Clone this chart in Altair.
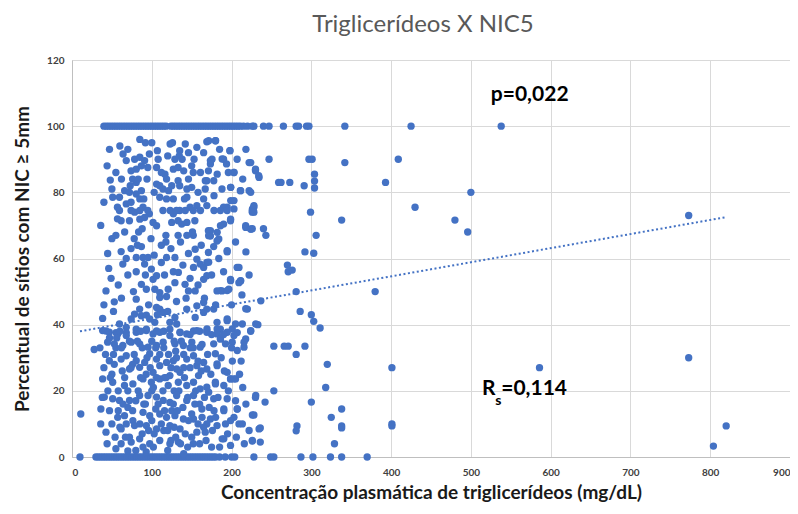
import altair as alt
import pandas as pd

# ---- data ----
# x values of points lying on the 100 % row
row100_x = [40, 43, 46, 49, 52, 55, 58, 61, 64, 67, 70, 73, 76, 79, 82, 85, 88, 91, 94, 97,
            100, 103, 106, 109, 112, 115, 118, 124, 127, 130, 133, 136, 139, 142, 145, 148,
            151, 154, 157, 160, 163, 166, 169, 172, 175, 178, 181, 184, 187, 190, 193, 196,
            199, 202, 205, 208, 211, 215, 220, 226, 228, 240, 247, 265, 281, 284, 294, 297,
            342, 425, 538]

# x values of points lying on the 0 % row
row0_x = [10, 30, 33, 36, 39, 42, 45, 48, 51, 54, 57, 60, 63, 66, 69, 72, 75, 78, 81, 84,
          87, 90, 93, 96, 99, 102, 105, 108, 111, 114, 117, 120, 123, 126, 129, 132, 135,
          138, 141, 144, 147, 150, 153, 156, 159, 162, 165, 168, 171, 174, 177, 180, 185,
          192, 200, 204, 228, 249, 253, 287, 302, 324, 338, 370]

# (x, y) points, upper part of the cloud
upper_pts = [(47, 93), (85, 96), (92, 95), (64, 91.6), (68, 89.6), (78.5, 90), (85, 90.6),
             (91, 89.6), (97, 91.6), (107, 92.6), (123, 94.6), (126, 95), (135, 92.6),
             (134.5, 91), (142, 94.6), (146, 92), (156.5, 93.6), (169, 95.3), (180, 95.6),
             (198, 92.6), (190, 90), (175.5, 90), (173.5, 88.6), (171, 86.5), (182, 85.5),
             (203, 86), (222, 89), (230, 86.5), (234.5, 84.5), (48, 83.7), (74, 86.5),
             (80.5, 87), (87, 88), (95, 87.5), (106, 87.5), (116.5, 85.5), (118.5, 84),
             (127, 87), (133, 87.5), (140, 86.5), (150, 88), (152, 86), (133, 83.5),
             (135, 82), (144, 81), (150, 81.5), (169, 83.5), (167, 81), (199, 81.5),
             (211, 80.5), (222, 80.5), (106, 82.5), (110, 82), (114, 81), (121, 80.5),
             (110, 78.5), (118.5, 78), (127, 78), (66, 80.5), (72, 80), (80.5, 79.5),
             (87, 80.5), (59.5, 78.5), (51, 78.5), (57, 75.5), (68, 76.5), (74, 77),
             (85, 78), (144, 78.5), (148, 75.5), (156.5, 76), (169, 76), (165, 78),
             (190, 75.5), (199, 77.5), (203, 75), (228, 76), (226, 74), (78.5, 74),
             (89, 75.5), (97, 73.5), (127, 73.5), (135, 74.5), (80.5, 83), (76, 84),
             (171.3, 95.6), (179.8, 95.6), (197.9, 92.6), (173.5, 89.6), (188.2, 90.1),
             (193.7, 88.6), (203, 86), (167.1, 83.5), (177.7, 83.5), (198.8, 81.5),
             (211.4, 80.5), (194.5, 75.5), (203, 77.5), (226.2, 75),
             (44, 88), (50, 81), (55, 86), (60, 94), (62, 84), (70, 93), (73, 82), (83, 84),
             (90, 78), (94, 84), (100, 95), (103, 80), (108, 90), (112, 86), (120, 91),
             (125, 82), (129, 90), (138, 90), (141, 78), (146, 84), (153, 90), (158, 80),
             (161, 86), (165, 92), (178, 79), (185, 93), (188, 81), (196, 86), (207, 90),
             (214, 84), (218, 93), (40, 77)]

# (x, y) points, 55 - 75 %
mid_high_pts = [(59.5, 74.5), (74, 74.5), (85, 74.5), (95, 74.5), (114, 74.5), (123, 74.5),
                (131, 74.5), (142, 74.5), (152, 74.5), (161, 74.5), (178, 74.5), (186, 74.5),
                (194.5, 74.5), (226, 74.5), (61.6, 71.4), (72, 71.4), (85, 71.9), (91, 72.4),
                (101.6, 70.9), (106, 69.9), (125, 70.9), (133, 71.4), (137.5, 70.4),
                (144, 70.9), (154, 71.4), (171, 68.4), (173.5, 66.8), (182, 67.9),
                (190, 70.4), (198.7, 71.4), (217.7, 69.9), (224, 68.9), (55, 67), (83.5, 68),
                (117.7, 67), (117.7, 65), (133, 67), (144, 67), (152, 67), (87, 63.6),
                (61.6, 62.1), (44.7, 61.5), (68, 60), (63.7, 58.3), (80.5, 60.3), (89, 60.3),
                (95.3, 60.3), (91, 58.3), (99.5, 56.8), (112, 58.8), (118.5, 60.3),
                (129, 60.3), (146, 61.5), (154.4, 62.8), (156.5, 59.8), (152.3, 57.3),
                (160.7, 58.3), (169, 58.8), (171, 61.8), (177.6, 63.6), (181.8, 65.3),
                (194.5, 62), (207, 57.3), (186.1, 69.9), (198.8, 71.9), (217.8, 69.4),
                (224.1, 68.9), (173.5, 68.4), (171.3, 66.9), (184, 65.9), (194.5, 62.4),
                (165, 57.3), (171.3, 58.9), (209.3, 57.3),
                (46, 57), (50, 66), (58, 52), (66, 68), (70, 55), (74, 63), (82, 64), (88, 69),
                (92, 55), (99, 66), (103, 61), (112, 64), (116, 55), (124, 63), (127, 56),
                (136, 65), (139, 58), (148, 54), (151, 68), (162, 64), (175, 55), (184, 60),
                (190, 56), (205, 65), (218, 62), (222, 55), (36, 70), (57, 72), (78, 66)]

# (x, y) points, 35 - 55 %
mid_pts = [(211.3, 53.2), (49, 54), (42.6, 50.2), (53, 46.9), (80.5, 56), (87, 52.2),
           (93.2, 50.7), (101.6, 53.7), (106, 54.8), (103.8, 50.7), (110, 49.7),
           (120.6, 50.7), (129, 52.7), (133.3, 55.8), (141.7, 52.2), (146, 50.2),
           (154.4, 50.2), (165, 53.7), (169, 54.8), (181.8, 50.2), (188, 50.2),
           (198.7, 53.7), (196.6, 50.7), (209.2, 52.7), (80.5, 47.7), (110, 48.2),
           (118.5, 48.5), (38.4, 41.9), (59.5, 40.2), (68, 39.2), (74.2, 41.7), (78.4, 43.2),
           (84.8, 44.7), (86.9, 42.7), (93.2, 42.9), (97.4, 41.7), (106, 45.2), (110, 44.7),
           (114.3, 43.7), (103.8, 40.7), (122.7, 40.7), (129, 42.2), (131.2, 40.2),
           (143.8, 44.7), (154.4, 42.2), (156.5, 45.7), (165, 46.7), (169, 44.7),
           (177.6, 44.7), (181.8, 40.7), (194.5, 41.7), (205, 40.2), (219.8, 44.7),
           (230.3, 40.2), (236.7, 47.2), (42.6, 38.1), (55.2, 37.6), (68, 37.6),
           (80.5, 38.6), (93.2, 38.6), (106, 38.1), (122.7, 38.6), (135.4, 37.6),
           (152.3, 38.1), (169, 38.1), (186, 38.6), (207.1, 37.6), (198.8, 53.3),
           (211.4, 53.3), (186.1, 50.3), (194.5, 50.3), (217.8, 44.8), (165, 43.7),
           (194.5, 41.2), (169.2, 38.7), (181.9, 38.7), (200.9, 38.7), (213.5, 40.2),
           (52, 44), (62, 48), (77, 50), (96, 46), (107, 43), (120, 44), (131, 47),
           (143, 48), (158, 52), (166, 48), (180, 46), (200, 46), (213, 49), (40, 46)]

# (x, y) points, 20 - 38 %
low_mid_pts = [(38.4, 38.2), (46.8, 37.7), (57.3, 37.2), (68, 36.7), (80.5, 37.7),
               (93.2, 38.2), (101.6, 37.2), (110, 37.7), (122.7, 36.7), (135.4, 37.7),
               (143.8, 37.2), (156.5, 38.2), (169, 37.7), (181.8, 37.2), (194.5, 37.7),
               (203, 36.7), (217.7, 35.7), (224, 38.2), (44.7, 34.7), (53, 34.2),
               (63.7, 33.7), (74.2, 34.7), (84.8, 34.2), (95.3, 33.2), (106, 33.7),
               (114.3, 34.7), (129, 34.2), (139.6, 33.7), (150.2, 34.7), (160.7, 33.2),
               (177.6, 34.2), (186, 35.7), (200.8, 34.7), (215.6, 33.2), (27.8, 32.5),
               (46.8, 29.1), (61.6, 29.6), (68, 30.6), (80.5, 29.1), (72.1, 26.6),
               (84.8, 27.1), (91.1, 28.6), (97.4, 31.2), (106, 29.6), (110, 27.6),
               (101.6, 25.6), (118.5, 28.6), (127, 29.1), (131.2, 26.6), (122.7, 24.6),
               (135.4, 25.6), (143.8, 29.6), (152.3, 30.6), (156.5, 27.6), (165, 28.6),
               (158.6, 24.6), (169, 26.6), (179.7, 31.2), (181.8, 28.1), (194.5, 25.6),
               (198.7, 23.6), (205, 23.6), (38.4, 23.6), (51, 22.6), (65.8, 21.6),
               (76.3, 22.1), (89, 23.6), (99.5, 22.6), (110, 23.6), (120.6, 21.6),
               (133.3, 22.6), (143.8, 21.6), (152.3, 22.6), (160.7, 20.6), (169, 21.1),
               (179.7, 22.6), (190.3, 21.6), (186.1, 35.7), (192.4, 34.2), (207.2, 32.2),
               (215.6, 34.7), (181.9, 27.6), (198.8, 23.6), (203, 23.6), (179.8, 22.1),
               (50, 25), (55, 33), (72, 35), (88, 33), (100, 35), (115, 33), (63, 26),
               (76, 28), (58, 20), (93, 25), (105, 33), (128, 35), (140, 31), (163, 34),
               (175, 37), (52, 31), (40, 27), (35, 33), (116, 24), (128, 20), (140, 27),
               (148, 33), (83, 20), (100, 20),
               (45, 20), (48, 24), (53, 28), (56, 36), (62, 33), (66, 24), (70, 20), (74, 27),
               (78, 31), (82, 35), (86, 24), (94, 30), (98, 27), (102, 21), (106, 24),
               (110, 31), (114, 20), (118, 24), (121, 31), (124, 27), (131, 30), (134, 20),
               (137, 35), (141, 24), (148, 27), (152, 33), (155, 20), (158, 29), (162, 26),
               (170, 31), (174, 25), (187, 30), (191, 26), (196, 20), (201, 29), (210, 25),
               (214, 21), (42, 31), (47, 36), (60, 38), (86, 38), (115, 38), (130, 32),
               (148, 37), (160, 38), (190, 37), (200, 33), (212, 29)]

# (x, y) points, 0 - 20 %
low_pts = [(40.5, 18.1), (51, 17.6), (59.5, 17.1), (36.2, 14.5), (72.1, 17.1), (84.8, 18.6),
           (95.3, 18.6), (106, 18.1), (114.3, 17.1), (122.7, 16.5), (131.2, 18.6),
           (143.8, 17.1), (152.3, 18.6), (162.8, 14.5), (171.3, 19.6), (177.6, 17.6),
           (190.3, 14.5), (207.1, 14.5), (230.3, 18.6), (226.1, 12.7), (57.3, 12),
           (65.8, 12.5), (76.3, 11), (89, 13.5), (97.4, 12.5), (110, 13), (118.5, 12),
           (129, 12.5), (139.6, 11.5), (152.3, 11.5), (169, 10), (181.8, 9.5), (192.4, 10),
           (203, 12), (213.5, 10), (42.6, 7.5), (61.6, 8.5), (78.4, 9.5), (93.2, 9.5),
           (106, 8.5), (122.7, 9.5), (135.4, 8.5), (156.5, 7.5), (167, 7.5), (190.3, 5.5),
           (198.7, 3.5), (226.1, 5), (234.5, 8.5), (61.6, 4), (74.2, 4.5), (84.8, 5.5),
           (97.4, 4), (110, 5), (122.7, 4), (133.3, 4.5), (11, 13), (194.5, 17.6),
           (190.3, 14), (207.2, 14.5), (198.8, 11), (209.3, 10), (188.2, 5.5), (173.5, 11.5),
           (165, 9), (70, 15), (60, 9), (88, 7), (102, 3), (115, 8), (130, 6), (145, 3),
           (160, 4), (175, 3), (47, 14), (67, 6), (80, 2), (93, 1.5), (105, 14.5),
           (125, 14), (139, 15), (150, 13), (160, 16), (55, 2.5), (70, 1.8), (120, 2),
           (140, 1), (152, 4), (44, 4), (36, 10),
           (127, 16), (145, 18), (166, 18), (178, 14), (183, 18), (205, 17), (218, 16),
           (50, 10), (54, 6), (58, 14), (64, 16), (68, 10), (72, 6), (76, 14), (80, 17),
           (85, 10), (89, 3), (90, 16), (92, 16), (96, 8), (100, 11), (103, 7), (108, 16),
           (112, 10), (116, 14), (120, 8), (124, 5), (128, 9), (132, 14), (136, 4), (142, 7),
           (146, 11), (150, 6), (154, 16), (158, 10), (163, 12), (168, 5), (172, 15),
           (176, 8), (180, 12), (185, 3), (195, 7), (206, 6), (216, 4), (222, 8), (38, 18)]

# sparse points at higher concentrations
sparse_pts = [(224, 89), (247, 90), (230, 87), (234, 85), (259, 83), (262, 83), (273, 83),
              (291, 82), (297, 90), (301, 90), (304, 85.5), (304, 83.4), (304, 81.3),
              (342, 89), (409, 90), (393, 83), (224, 80), (500, 80), (228, 75.5), (228, 74),
              (299, 74), (430, 75.5), (226, 69), (240, 69), (243, 67), (338, 71.6),
              (306, 67), (480, 71.6), (496, 68), (292, 62), (303, 61.6), (270, 58), (271, 56),
              (276, 56.5), (281, 50), (380, 50), (286, 44), (300, 43), (303, 41), (311, 39),
              (233, 40), (224, 38), (253, 33.5), (266, 33.5), (271, 33.5), (292, 33.5),
              (281, 31), (320, 28), (401, 27), (586, 27), (253, 20), (318, 21), (230, 18),
              (242, 16.6), (300, 16.6), (228, 12.7), (325, 12), (338, 14.5), (282, 9.4),
              (281, 7.9), (338, 9.4), (338, 8.8), (401, 10), (401, 9.4), (236, 8.8),
              (226, 4.8), (236, 4.5), (329, 4), (773, 73), (773, 30), (820, 9.4), (804, 3.3)]

# dotted linear trend line end points
trend_x = [10, 820]
trend_y = [38, 72.5]

x_ticks = [0, 100, 200, 300, 400, 500, 600, 700, 800, 900]
y_ticks = [0, 20, 40, 60, 80, 100, 120]

# ---- build tables ----
pts = ([(x, 100) for x in row100_x] + [(x, 0) for x in row0_x] + upper_pts + mid_high_pts
       + mid_pts + low_mid_pts + low_pts + sparse_pts)
df = pd.DataFrame(pts, columns=["tg", "nic"])
trend = pd.DataFrame({"tg": trend_x, "nic": trend_y})
one = pd.DataFrame({"k": [0]})

BLUE = "#4472C4"
FONT = "Lato"

xscale = alt.Scale(domain=[0, 900], nice=False)
yscale = alt.Scale(domain=[0, 120], nice=False)

xaxis = alt.Axis(values=x_ticks, title="Concentração plasmática de triglicerídeos (mg/dL)",
                 grid=True, gridColor="#d9d9d9", domainColor="#bfbfbf", ticks=False,
                 labelFont=FONT, labelFontSize=10, labelFontWeight="bold", labelColor="#404040",
                 labelPadding=10, titleFont=FONT, titleFontSize=19, titleFontWeight="bold",
                 titleColor="#1a1a1a", titlePadding=6)
yaxis = alt.Axis(values=y_ticks, title="Percentual de sítios com NIC ≥ 5mm",
                 grid=True, gridColor="#d9d9d9", domainColor="#bfbfbf", ticks=False,
                 labelFont=FONT, labelFontSize=10, labelFontWeight="bold", labelColor="#404040",
                 labelPadding=8, titleFont=FONT, titleFontSize=19, titleFontWeight="bold",
                 titleColor="#1a1a1a", titlePadding=14)

points = alt.Chart(df).mark_circle(size=54, color=BLUE, opacity=1).encode(
    x=alt.X("tg:Q", scale=xscale, axis=xaxis),
    y=alt.Y("nic:Q", scale=yscale, axis=yaxis),
)

line = alt.Chart(trend).mark_line(color=BLUE, strokeWidth=2, strokeDash=[2, 2.5]).encode(
    x=alt.X("tg:Q", scale=xscale),
    y=alt.Y("nic:Q", scale=yscale),
)

p_text = alt.Chart(one).mark_text(
    text="p=0,022", font=FONT, fontSize=21, fontWeight="bold", color="#000000", align="left"
).encode(x=alt.datum(525), y=alt.datum(109.5))

r_text = alt.Chart(one).mark_text(
    text="R", font=FONT, fontSize=21, fontWeight="bold", color="#000000", align="left"
).encode(x=alt.datum(514), y=alt.datum(20.5))

s_text = alt.Chart(one).mark_text(
    text="s", font=FONT, fontSize=14, fontWeight="bold", color="#000000", align="left"
).encode(x=alt.datum(530.5), y=alt.datum(16.8))

v_text = alt.Chart(one).mark_text(
    text="=0,114", font=FONT, fontSize=21, fontWeight="bold", color="#000000", align="left"
).encode(x=alt.datum(538), y=alt.datum(20.5))

chart = alt.layer(points, line, p_text, r_text, s_text, v_text).properties(
    width=782, height=494,
    title=alt.TitleParams("Triglicerídeos X NIC5", font=FONT, fontSize=24,
                          fontWeight="normal", color="#595959", offset=18, anchor="middle",
                          dx=-8),
    padding={"left": 5, "top": 5, "right": 0, "bottom": 0},
    autosize=alt.AutoSizeParams(type="fit", contains="padding"),
).configure_view(stroke=None).configure(background="white")

chart.save("out.html", embed_options={"renderer": "svg", "actions": False})
